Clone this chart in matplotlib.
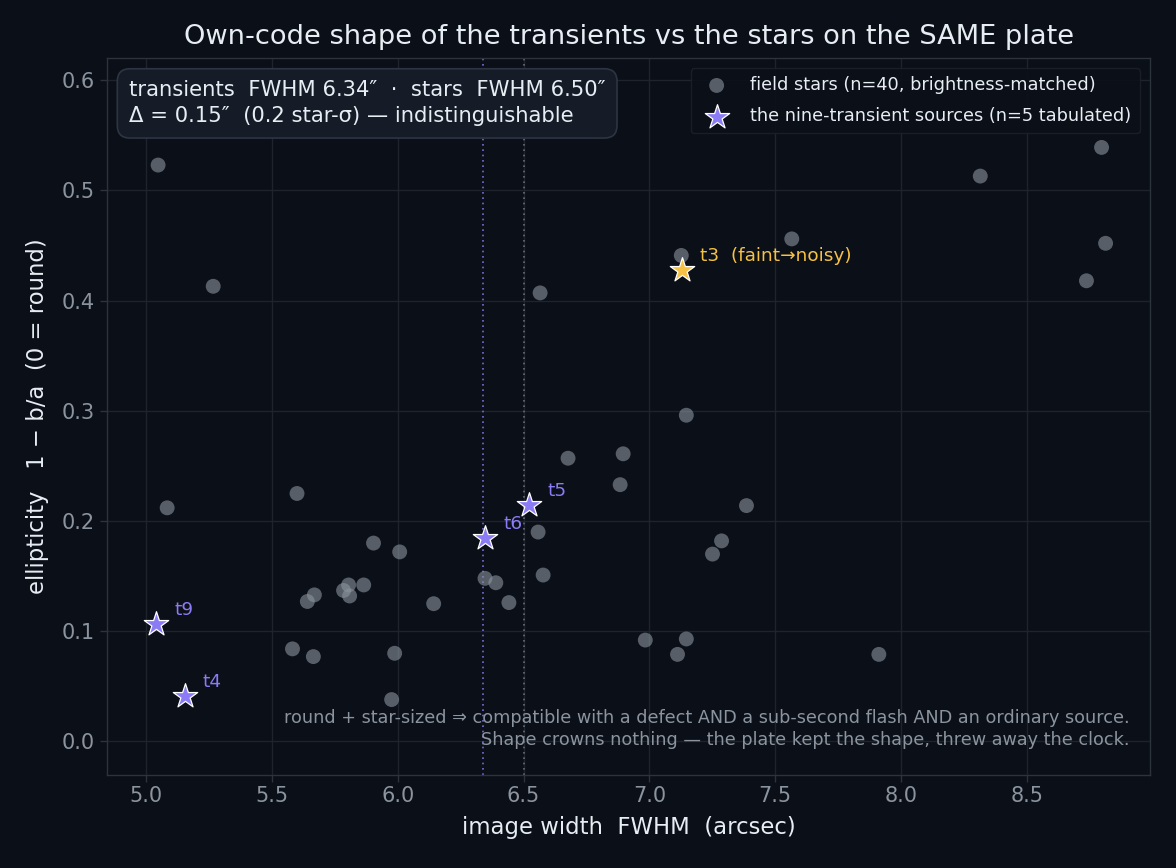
import matplotlib
matplotlib.use("Agg")
import matplotlib.pyplot as plt
import numpy as np

# ---- data ----
star_fwhm = [5.048, 5.267, 5.084, 5.600, 5.582, 5.665, 5.641, 5.669, 5.904, 6.008,
             5.785, 5.805, 5.809, 5.865, 6.143, 5.988, 5.976, 6.347, 6.390, 6.442,
             6.558, 6.578, 6.677, 6.566, 6.896, 6.884, 7.147, 7.127, 6.984, 7.147,
             7.112, 7.251, 7.287, 7.386, 7.566, 7.912, 8.315, 8.797, 8.813, 8.737]
star_ell = [0.523, 0.413, 0.212, 0.225, 0.084, 0.077, 0.127, 0.133, 0.180, 0.172,
            0.137, 0.142, 0.132, 0.142, 0.125, 0.080, 0.038, 0.148, 0.144, 0.126,
            0.190, 0.151, 0.257, 0.407, 0.261, 0.233, 0.296, 0.441, 0.092, 0.093,
            0.079, 0.170, 0.182, 0.214, 0.456, 0.079, 0.513, 0.539, 0.452, 0.418]

tr_names = ["t9", "t4", "t6", "t5", "t3"]
tr_fwhm = [5.040, 5.153, 6.348, 6.523, 7.131]
tr_ell = [0.107, 0.0415, 0.185, 0.215, 0.4275]
tr_noisy = [False, False, False, False, True]

tr_med = 6.34
st_med = 6.50
delta = 0.15
delta_sigma = 0.2

# ---- style ----
BG = "#0b0f17"
GRID = "#1f242c"
SPINE = "#2d333b"
TICK = "#8b949e"
TXT = "#e6edf3"
PURPLE = "#8b7cf6"
ORANGE = "#f6c244"
DOT = "#8b949e"

plt.rcParams["font.family"] = ["DejaVu Sans"]

fig = plt.figure(figsize=(11.76, 8.68), dpi=100, facecolor=BG)
ax = fig.add_axes([0.091, 0.1077, 0.887, 0.8253])
ax.set_facecolor(BG)

ax.grid(True, color=GRID, linewidth=1.0, zorder=0)
ax.set_axisbelow(True)
for s in ax.spines.values():
    s.set_color(SPINE)
    s.set_linewidth(1.0)
ax.tick_params(colors=SPINE, labelcolor=TICK, labelsize=15, length=5, width=1)

ax.axvline(tr_med, color=PURPLE, linestyle=(0, (1.0, 2.2)), linewidth=1.2, alpha=0.85, zorder=1)
ax.axvline(st_med, color="#6e7681", linestyle=(0, (1.0, 2.2)), linewidth=1.2, alpha=0.9, zorder=1)

ax.scatter(star_fwhm, star_ell, s=115, color=DOT, alpha=0.6, edgecolors="none",
           zorder=2, label="field stars (n=40, brightness-matched)")

for i, (n, x, y, noisy) in enumerate(zip(tr_names, tr_fwhm, tr_ell, tr_noisy)):
    c = ORANGE if noisy else PURPLE
    ax.scatter([x], [y], s=340, marker="*", color=c, edgecolors="white", linewidths=0.9,
               zorder=4, label="the nine-transient sources (n=5 tabulated)" if i == 0 else None)
    lab = n + "  (faint\u2192noisy)" if noisy else n
    ax.annotate(lab, (x, y), xytext=(13, 10), textcoords="offset points",
                ha="left", va="center", color=c, fontsize=13.3, zorder=5)

ax.set_xlim(4.845, 8.99)
ax.set_ylim(-0.030, 0.620)
ax.set_xticks(np.arange(5.0, 8.51, 0.5))
ax.set_yticks(np.arange(0.0, 0.61, 0.1))

ax.set_xlabel("image width  FWHM  (arcsec)", color=TXT, fontsize=16.4, labelpad=7)
ax.set_ylabel("ellipticity   1 \u2212 b/a  (0 = round)", color=TXT, fontsize=16.4, labelpad=9)
ax.set_title("Own-code shape of the transients vs the stars on the SAME plate",
             color=TXT, fontsize=19.6, pad=10)

box_txt = (f"transients  FWHM {tr_med:.2f}\u2033  \u00b7  stars  FWHM {st_med:.2f}\u2033\n"
           f"\u0394 = {delta:.2f}\u2033  ({delta_sigma:.1f} star-\u03c3) \u2014 indistinguishable")
ax.text(0.021, 0.969, box_txt, transform=ax.transAxes, ha="left", va="top",
        color=TXT, fontsize=15.2, linespacing=1.38, zorder=6,
        bbox=dict(boxstyle="round,pad=0.55,rounding_size=0.6", facecolor="#161c27",
                  edgecolor="#2d3542", linewidth=1.2))

leg = ax.legend(loc="upper right", fontsize=12.8, frameon=True, facecolor=BG,
                edgecolor="#1c2129", labelcolor=TXT, borderpad=0.45, handletextpad=0.9,
                labelspacing=0.75, framealpha=0.9, bbox_to_anchor=(0.9985, 0.9985))
leg.get_frame().set_linewidth(1.0)
leg.set_zorder(6)

ax.text(0.98, 0.035,
        "round + star-sized \u21d2 compatible with a defect AND a sub-second flash AND an ordinary source.\n"
        "Shape crowns nothing \u2014 the plate kept the shape, threw away the clock.",
        transform=ax.transAxes, ha="right", va="bottom", color=TICK, fontsize=12.7,
        linespacing=1.3, zorder=6)

fig.savefig("out.png", dpi=100, facecolor=BG)
